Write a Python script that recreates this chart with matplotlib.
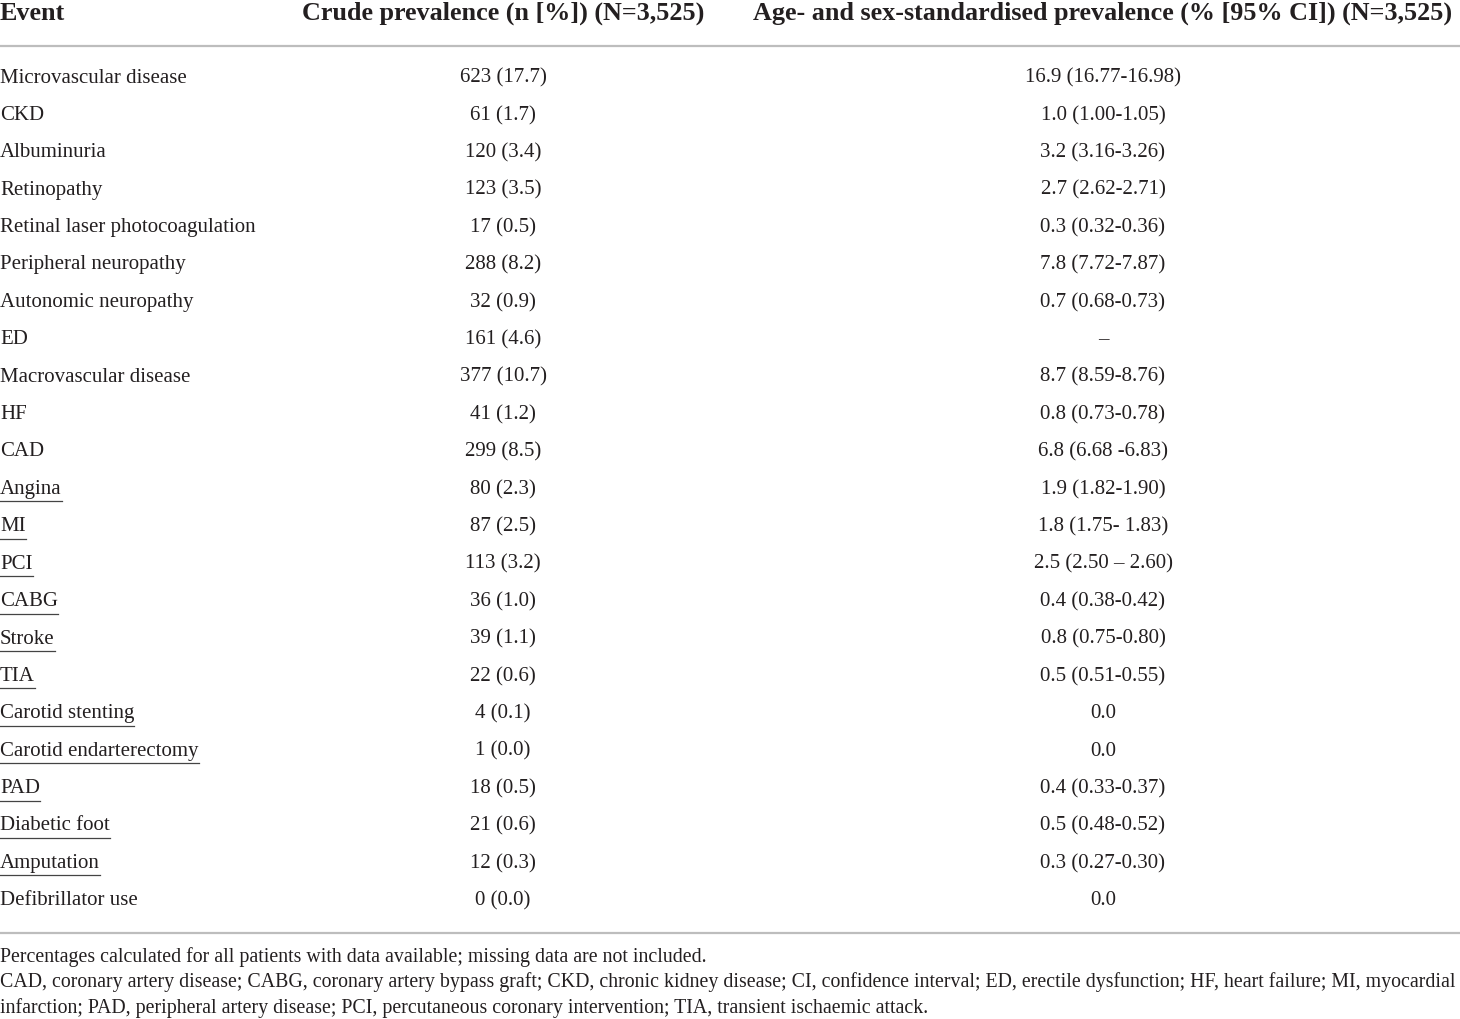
import matplotlib
matplotlib.use("Agg")
import matplotlib.pyplot as plt

plt.rcParams['font.family'] = ['Liberation Serif', 'DejaVu Serif']

headers = ["Event", "Crude prevalence (n [%]) (N=3,525)",
           "Age- and sex-standardised prevalence (% [95% CI]) (N=3,525)"]

events = ["Microvascular disease", "CKD", "Albuminuria", "Retinopathy",
          "Retinal laser photocoagulation", "Peripheral neuropathy",
          "Autonomic neuropathy", "ED", "Macrovascular disease", "HF", "CAD",
          "Angina", "MI", "PCI", "CABG", "Stroke", "TIA", "Carotid stenting",
          "Carotid endarterectomy", "PAD", "Diabetic foot", "Amputation",
          "Defibrillator use"]

crude = ["623 (17.7)", "61 (1.7)", "120 (3.4)", "123 (3.5)", "17 (0.5)",
         "288 (8.2)", "32 (0.9)", "161 (4.6)", "377 (10.7)", "41 (1.2)",
         "299 (8.5)", "80 (2.3)", "87 (2.5)", "113 (3.2)", "36 (1.0)",
         "39 (1.1)", "22 (0.6)", "4 (0.1)", "1 (0.0)", "18 (0.5)", "21 (0.6)",
         "12 (0.3)", "0 (0.0)"]

standardised = ["16.9 (16.77-16.98)", "1.0 (1.00-1.05)", "3.2 (3.16-3.26)",
                "2.7 (2.62-2.71)", "0.3 (0.32-0.36)", "7.8 (7.72-7.87)",
                "0.7 (0.68-0.73)", "\u2013", "8.7 (8.59-8.76)", "0.8 (0.73-0.78)",
                "6.8 (6.68 -6.83)", "1.9 (1.82-1.90)", "1.8 (1.75- 1.83)",
                "2.5 (2.50 \u2013 2.60)", "0.4 (0.38-0.42)", "0.8 (0.75-0.80)",
                "0.5 (0.51-0.55)", "0.0", "0.0", "0.4 (0.33-0.37)",
                "0.5 (0.48-0.52)", "0.3 (0.27-0.30)", "0.0"]

underlined = ["Angina", "MI", "PCI", "CABG", "Stroke", "TIA", "Carotid stenting",
              "Carotid endarterectomy", "PAD", "Diabetic foot", "Amputation"]

footnotes = [
    "Percentages calculated for all patients with data available; missing data are not included.",
    "CAD, coronary artery disease; CABG, coronary artery bypass graft; CKD, chronic kidney disease; CI, confidence interval; ED, erectile dysfunction; HF, heart failure; MI, myocardial",
    "infarction; PAD, peripheral artery disease; PCI, percutaneous coronary intervention; TIA, transient ischaemic attack.",
]

W, H = 1460, 1019
fig = plt.figure(figsize=(W / 100, H / 100), dpi=100)
ax = fig.add_axes([0, 0, 1, 1])
ax.set_xlim(0, W)
ax.set_ylim(H, 0)
ax.axis('off')

ink = '#231f20'
col_x = [0, 503, 1103]
body_fs = 15
head_fs = 18.8
foot_fs = 14.3

# header
ax.text(col_x[0], 13, headers[0], ha='left', va='center', fontsize=head_fs,
        fontweight='bold', color=ink)
for cx, h in zip(col_x[1:], headers[1:]):
    ax.text(cx, 13, h, ha='center', va='center', fontsize=head_fs,
            fontweight='bold', color=ink)

ax.plot([0, W], [46, 46], color='#bdbdbd', lw=1.6, solid_capstyle='butt')
ax.plot([0, W], [933, 933], color='#bdbdbd', lw=1.6, solid_capstyle='butt')

y0, dy = 78, 37.4
labels = []
for i, (ev, c, s) in enumerate(zip(events, crude, standardised)):
    y = y0 + i * dy
    t = ax.text(col_x[0], y, ev, ha='left', va='center', fontsize=body_fs, color=ink)
    if ev in underlined:
        labels.append((t, y))
    ax.text(col_x[1], y, c, ha='center', va='center', fontsize=body_fs, color=ink)
    ax.text(col_x[2], y, s, ha='center', va='center', fontsize=body_fs, color=ink)

# underline the sub-items, using the drawn text width
fig.canvas.draw()
r = fig.canvas.get_renderer()
for t, y in labels:
    bb = t.get_window_extent(r)
    x0, x1 = ax.transData.inverted().transform([[bb.x0, 0], [bb.x1, 0]])[:, 0]
    ax.plot([x0, x1], [y + 12, y + 12], color='#444444', lw=0.9)

for i, line in enumerate(footnotes):
    ax.text(0, 957 + i * 25.5, line, ha='left', va='center', fontsize=foot_fs, color=ink)

fig.savefig("out.png", dpi=100, facecolor='white')
